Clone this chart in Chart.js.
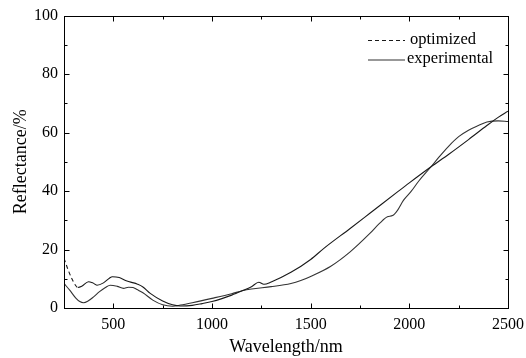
<!DOCTYPE html>
<html>
<head>
<meta charset="utf-8">
<script src="https://cdn.jsdelivr.net/npm/chart.js@4.4.1/dist/chart.umd.min.js"></script>
<style>
  html, body { margin: 0; padding: 0; background: #fff; }
  #wrap { width: 526px; height: 358px; }
</style>
</head>
<body>
<div id="wrap"><canvas id="chart"></canvas></div>
<script>
// données
const optWl   = [250, 270, 290, 310, 320, 340, 374, 395, 417, 450, 480, 495, 530, 569, 603, 620, 650, 687, 750, 800, 840, 900, 950, 1000, 1050, 1100, 1150, 1200, 1237, 1263, 1300, 1400, 1500, 1567, 1700, 1800, 1940, 2000, 2110, 2200, 2300, 2393, 2450, 2500];
const optRefl = [17, 13.2, 10, 7.6, 7.0, 7.4, 9.0, 8.6, 7.8, 8.6, 10.2, 10.7, 10.4, 9.2, 8.6, 8.2, 7.2, 5.0, 2.4, 1.1, 0.7, 0.9, 1.5, 2.2, 3.2, 4.4, 5.8, 7.3, 8.8, 8.1, 8.9, 12.2, 16.6, 20.4, 27.2, 32.4, 39.7, 42.8, 48.3, 52.6, 57.6, 62.4, 65.2, 67.3];
const expWl   = [250, 280, 310, 330, 349, 370, 400, 430, 460, 484, 520, 552, 577, 600, 620, 650, 700, 750, 800, 840, 900, 1000, 1100, 1153, 1200, 1300, 1400, 1450, 1500, 1600, 1700, 1800, 1850, 1889, 1915, 1940, 1970, 2007, 2050, 2110, 2150, 2200, 2250, 2300, 2350, 2393, 2450, 2500];
const expRefl = [8.4, 6.0, 3.4, 2.2, 1.8, 2.3, 3.8, 5.6, 7.0, 7.8, 7.4, 6.7, 7.1, 7.0, 6.3, 5.2, 2.7, 1.1, 0.6, 1.0, 1.8, 3.3, 4.9, 5.9, 6.5, 7.3, 8.4, 9.4, 10.8, 14.2, 19.2, 25.5, 29.0, 31.2, 31.6, 33.4, 36.8, 39.7, 43.6, 48.3, 51.6, 55.4, 58.6, 60.8, 62.4, 63.6, 64.0, 63.8];
const seriesNames = ['optimized', 'experimental'];
const xTicks = [500, 1000, 1500, 2000, 2500];
const xMinor = [750, 1250, 1750, 2250];
const yTicks = [0, 20, 40, 60, 80, 100];
const yMinor = [10, 30, 50, 70, 90];

const serif = '"Liberation Serif", "Times New Roman", serif';

// cadre + graduations intérieures + légende
const frameTicks = {
  id: 'frameTicks',
  afterDraw(chart) {
    const { ctx, chartArea: a, scales: { x, y } } = chart;
    ctx.save();
    ctx.strokeStyle = '#000';
    ctx.lineWidth = 1;
    const L = Math.round(a.left) + 0.5, R = Math.round(a.right) + 0.5;
    const T = Math.round(a.top) + 0.5, B = Math.round(a.bottom) + 0.5;
    ctx.strokeRect(L, T, R - L, B - T);
    ctx.beginPath();
    const xt = (v, len) => {
      const p = Math.round(x.getPixelForValue(v)) + 0.5;
      ctx.moveTo(p, B); ctx.lineTo(p, B - len);
      ctx.moveTo(p, T); ctx.lineTo(p, T + len);
    };
    const yt = (v, len) => {
      const p = Math.round(y.getPixelForValue(v)) + 0.5;
      ctx.moveTo(L, p); ctx.lineTo(L + len, p);
      ctx.moveTo(R, p); ctx.lineTo(R - len, p);
    };
    xTicks.forEach(v => xt(v, 5));
    xMinor.forEach(v => xt(v, 3));
    yTicks.forEach(v => yt(v, 5));
    yMinor.forEach(v => yt(v, 3));
    ctx.stroke();

    // légende
    ctx.font = '16.5px ' + serif;
    ctx.fillStyle = '#000';
    ctx.textBaseline = 'middle';
    const lx = 368, ly = 40;
    chart.data.datasets.forEach((ds, i) => {
      const yy = ly + i * 19.5 + 0.5;
      ctx.beginPath();
      ctx.setLineDash(i === 0 ? [4, 3] : []);
      ctx.lineWidth = 1.1;
      ctx.strokeStyle = ds.borderColor;
      ctx.moveTo(lx, yy); ctx.lineTo(lx + 37, yy);
      ctx.stroke();
      ctx.setLineDash([]);
      ctx.fillText(ds.label, lx + (i === 0 ? 42 : 39), yy - 1);
    });
    ctx.restore();
  }
};

const ctx = document.getElementById('chart').getContext('2d');
new Chart(ctx, {
  type: 'line',
  data: {
    datasets: [
      {
        label: seriesNames[0],
        data: optWl.map((w, i) => ({ x: w, y: optRefl[i] })),
        borderColor: '#1a1a1a',
        borderWidth: 1.1,
        pointRadius: 0,
        tension: 0.4,
        cubicInterpolationMode: 'monotone',
        segment: {
          borderDash: c => c.p1.parsed.x <= 320 ? [4, 3] : undefined
        }
      },
      {
        label: seriesNames[1],
        data: expWl.map((w, i) => ({ x: w, y: expRefl[i] })),
        borderColor: '#333',
        borderWidth: 1.1,
        pointRadius: 0,
        tension: 0.4,
        cubicInterpolationMode: 'monotone'
      }
    ]
  },
  options: {
    responsive: true,
    maintainAspectRatio: false,
    animation: false,
    layout: { padding: { top: 15, right: 18, left: 10, bottom: 0 } },
    plugins: {
      legend: { display: false },
      tooltip: { enabled: false }
    },
    scales: {
      x: {
        type: 'linear',
        min: 250,
        max: 2500,
        afterBuildTicks: s => { s.ticks = xTicks.map(v => ({ value: v })); },
        afterFit: s => { s.height = 50; s.paddingLeft = 0; s.paddingRight = 0; },
        grid: { display: false, drawTicks: false },
        border: { display: false },
        ticks: { color: '#000', font: { family: serif, size: 16 }, padding: 7, maxRotation: 0, callback: v => String(v) },
        title: { display: true, text: 'Wavelength/nm', color: '#000', font: { family: serif, size: 18 }, padding: { top: 0, bottom: 0 } }
      },
      y: {
        min: 0,
        max: 100,
        afterBuildTicks: s => { s.ticks = yTicks.map(v => ({ value: v })); },
        afterFit: s => { s.width = 54; },
        grid: { display: false, drawTicks: false },
        border: { display: false },
        ticks: { color: '#000', font: { family: serif, size: 16 }, padding: 6, callback: v => String(v) },
        title: { display: true, text: 'Reflectance/%', color: '#000', font: { family: serif, size: 18 }, padding: { top: 0, bottom: 0 } }
      }
    }
  },
  plugins: [frameTicks]
});
</script>
</body>
</html>
